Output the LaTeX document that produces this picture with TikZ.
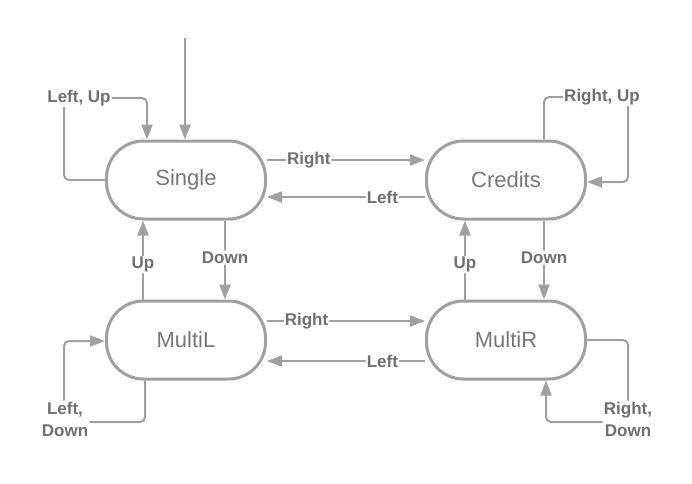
\documentclass[tikz,border=0pt]{standalone}
\usepackage{fontspec}
\setmainfont{Liberation Sans}
\usetikzlibrary{arrows.meta,calc}
\definecolor{lgray}{HTML}{A0A0A0}
\definecolor{tgray}{HTML}{707070}
\definecolor{ngray}{HTML}{777777}
\tikzset{
  state/.style={draw=lgray, line width=3pt, rectangle, rounded corners=37pt,
    minimum width=159pt, minimum height=78pt, text=ngray,
    font=\fontsize{22}{26}\selectfont},
  conn/.style={draw=lgray, line width=2pt, rounded corners=5pt},
  arr/.style={conn, -{Triangle[length=15pt,width=11pt]}},
  lab/.style={fill=white, text=tgray, inner sep=1pt, align=center,
    font=\bfseries\fontsize{17}{22}\selectfont}
}
\begin{document}
\begin{tikzpicture}[x=1pt,y=-1pt]
\useasboundingbox (0,0) rectangle (692,483);
\node[state] (s) at (186,180) {Single};
\node[state] (c) at (506,180) {Credits};
\node[state] (ml) at (186,340) {MultiL};
\node[state] (mr) at (506,340) {MultiR};

\node[lab] (lu) at (79,98) {Left, Up};
\node[lab] (ru) at (602,97) {Right, Up};
\node[lab] (ld) at (65,419) {Left,\\Down};
\node[lab] (rd) at (628,419) {Right,\\Down};

\coordinate (start) at (185,38);
\draw[arr] (start) -- (start |- s.north);

% Single self loop
\draw[conn] (s.west) -| ([xshift=-15pt]lu.south);
\draw[arr] (lu.east) -| ([xshift=-39pt]s.north);

% Credits self loop
\draw[conn] ([xshift=38pt]c.north) |- (ru.west);
\draw[arr] ([xshift=26pt]ru.south) |- ([yshift=-2pt]c.east);

% MultiL self loop
\draw[conn] ([xshift=-41pt]ml.south) |- ([yshift=-3pt]ld.east);
\draw[arr] ([xshift=-1pt]ld.north) |- ([yshift=-1pt]ml.west);

% MultiR self loop
\draw[conn] (mr.east) -| (rd.north);
\draw[arr] ([yshift=-3pt]rd.west) -| ([xshift=40pt]mr.south);

% horizontal transitions
\draw[arr] ([yshift=20pt]s.east) -- node[lab, pos=0.264] {Right} ([yshift=20pt]c.west);
\draw[arr] ([yshift=-17pt]c.west) -- node[lab, pos=0.27] {Left} ([yshift=-17pt]s.east);
\draw[arr] ([yshift=19pt]ml.east) -- node[lab, pos=0.25] {Right} ([yshift=19pt]mr.west);
\draw[arr] ([yshift=-21pt]mr.west) -- node[lab, pos=0.27] {Left} ([yshift=-21pt]ml.east);

% vertical transitions
\draw[arr] ([xshift=39pt]s.south) -- node[lab, pos=0.47] {Down} ([xshift=39pt]ml.north);
\draw[arr] ([xshift=-43pt]ml.north) -- node[lab, pos=0.44] {Up} ([xshift=-43pt]s.south);
\draw[arr] ([xshift=38pt]c.south) -- node[lab, pos=0.47] {Down} ([xshift=38pt]mr.north);
\draw[arr] ([xshift=-41pt]mr.north) -- node[lab, pos=0.44] {Up} ([xshift=-41pt]c.south);
\end{tikzpicture}
\end{document}
